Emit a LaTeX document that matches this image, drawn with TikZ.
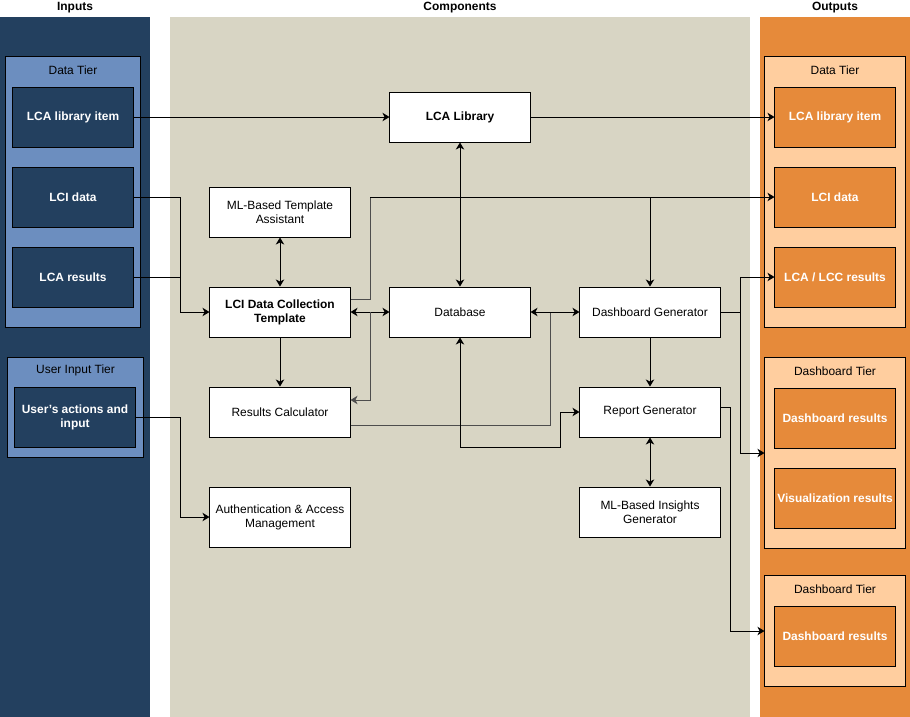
\documentclass[tikz,border=0pt]{standalone}
\usepackage{fontspec}
\setmainfont{Liberation Sans}
\usetikzlibrary{arrows.meta}
\definecolor{navy}{HTML}{23405F}
\definecolor{steel}{HTML}{6C8EBF}
\definecolor{sand}{HTML}{D8D5C4}
\definecolor{amber}{HTML}{E68A3A}
\definecolor{peach}{HTML}{FFCE9F}
\definecolor{wire}{HTML}{4D4D4D}
\tikzset{
  every node/.style={font=\fontsize{8.5}{10}\selectfont, inner sep=0pt, align=center},
  comp/.style={draw, fill=white, line width=0.7pt, minimum width=3.5cm, minimum height=1.25cm},
  inbox/.style={draw, fill=navy, text=white, font=\fontsize{8.5}{10}\selectfont\bfseries, line width=0.7pt, minimum width=3cm, minimum height=1.5cm},
  outbox/.style={inbox, fill=amber},
  tier/.style={draw, line width=0.7pt, minimum width=3.5cm},
  arr/.style={-{Stealth[length=5pt,width=6pt,inset=1.5pt]}, line width=0.7pt},
  dbl/.style={{Stealth[length=5pt,width=6pt,inset=1.5pt]}-{Stealth[length=5pt,width=6pt,inset=1.5pt]}, line width=0.7pt},
  title/.style={font=\fontsize{8.5}{10}\selectfont\bfseries}
}
\begin{document}
\begin{tikzpicture}[x=0.025cm,y=-0.025cm]
\useasboundingbox[fill=white] (0,0) rectangle (910,717);
% Columns
\fill[navy] (0,17) rectangle (150,717);
\fill[sand] (170,17) rectangle (750,717);
\fill[amber] (760,17) rectangle (910,717);
\node[title] (tin) at (75,8) {Inputs};
\node[title] (tcomp) at (460,8) {Components};
\node[title] (tout) at (835,8) {Outputs};
% Inputs
\node[tier, fill=steel, minimum width=3.35cm, minimum height=6.75cm] (intier) at (73,192) {};
\node (intierlbl) at (73,70) {Data Tier};
\node[inbox] (inlib) at (73,117) {LCA library item};
\node[inbox] (inlci) at (73,197) {LCI data};
\node[inbox] (inres) at (73,277) {LCA results};
\node[tier, fill=steel, minimum width=3.375cm, minimum height=2.475cm] (usertier) at (75.5,407.5) {};
\node (usertierlbl) at (75.5,370) {User Input Tier};
\node[inbox] (inuser) at (75,417) {User's actions and\\input};
% Components
\node[comp, font=\fontsize{8.5}{10}\selectfont\bfseries] (lib) at (460,117) {LCA Library};
\node[comp] (mlta) at (280,212) {ML-Based Template\\Assistant};
\node[comp, font=\fontsize{8.5}{10}\selectfont\bfseries] (lcit) at (280,312) {LCI Data Collection\\Template};
\node[comp] (db) at (460,312) {Database};
\node[comp] (dash) at (650,312) {Dashboard Generator};
\node[comp] (calc) at (280,412) {Results Calculator};
\node[comp] (rep) at (650,412) {Report Generator};
\node[comp, minimum height=1.5cm] (auth) at (280,517) {Authentication \& Access\\Management};
\node[comp] (mlig) at (650,512) {ML-Based Insights\\Generator};
% Outputs
\node[tier, fill=peach, minimum height=6.75cm] (outtier) at (835,192) {};
\node (outtierlbl) at (835,70) {Data Tier};
\node[outbox] (outlib) at (835,117) {LCA library item};
\node[outbox] (outlci) at (835,197) {LCI data};
\node[outbox] (outres) at (835,277) {LCA / LCC results};
\node[tier, fill=peach, minimum height=4.75cm] (dashtier) at (835,453) {};
\node (dashtierlbl) at (835,371) {Dashboard Tier};
\node[outbox] (outdash) at (835,418) {Dashboard results};
\node[outbox] (outvis) at (835,498) {Visualization results};
\node[tier, fill=peach, minimum height=2.75cm] (dashtierb) at (835,631) {};
\node (dashtierblbl) at (835,589) {Dashboard Tier};
\node[outbox] (outdashb) at (835,636) {Dashboard results};
% Turning points
\coordinate (jin) at (180,312);
\coordinate (jauth) at (180,517);
\coordinate (jtop) at (370,197);
\coordinate (jleft) at (370,312);
\coordinate (jright) at (550,312);
\coordinate (jdb) at (560,447);
\coordinate (jdash) at (650,197);
\coordinate (jres) at (740,277);
\coordinate (jtier) at (740,453);
\coordinate (jrep) at (730,631);
% Inputs to components
\draw[arr] (inlib.east) -- (lib.west);
\draw[arr] (inlci.east) -| (jin) -- (lcit.west);
\draw[line width=0.7pt] (inres.east) -- (inres.east -| jin);
\draw[arr] (inuser.east) -| (jauth) -- (auth.west);
% Between components
\draw[dbl] (lib) -- (db);
\draw[dbl] (mlta) -- (lcit);
\draw[arr] (lcit) -- (calc);
\draw[dbl] (lcit) -- (db);
\draw[arr, wire] (jleft) |- ([yshift=3mm]calc.east);
\draw[line width=0.7pt, wire] ([yshift=-3.25mm]calc.east) -| (jright);
\draw[dbl] (db) -- (dash);
\draw[dbl] (db.south) |- (jdb) |- (rep.west);
\draw[arr] (dash) -- (rep);
\draw[dbl] (rep) -- (mlig);
% Components to outputs
\draw[arr] (lib.east) -- (outlib.west);
\draw[line width=0.7pt, wire] ([yshift=3.25mm]lcit.east) -| (jtop);
\draw[arr] (jtop) -- (outlci.west);
\draw[arr] (jdash) -- (dash.north);
\draw[arr] (dash.east) -| (jres) -- (outres.west);
\draw[arr] (dash.east) -| (jtier) -- (dashtier.west);
\draw[arr] ([yshift=1.25mm]rep.east) -| (jrep) -- (dashtierb.west);
\end{tikzpicture}
\end{document}
